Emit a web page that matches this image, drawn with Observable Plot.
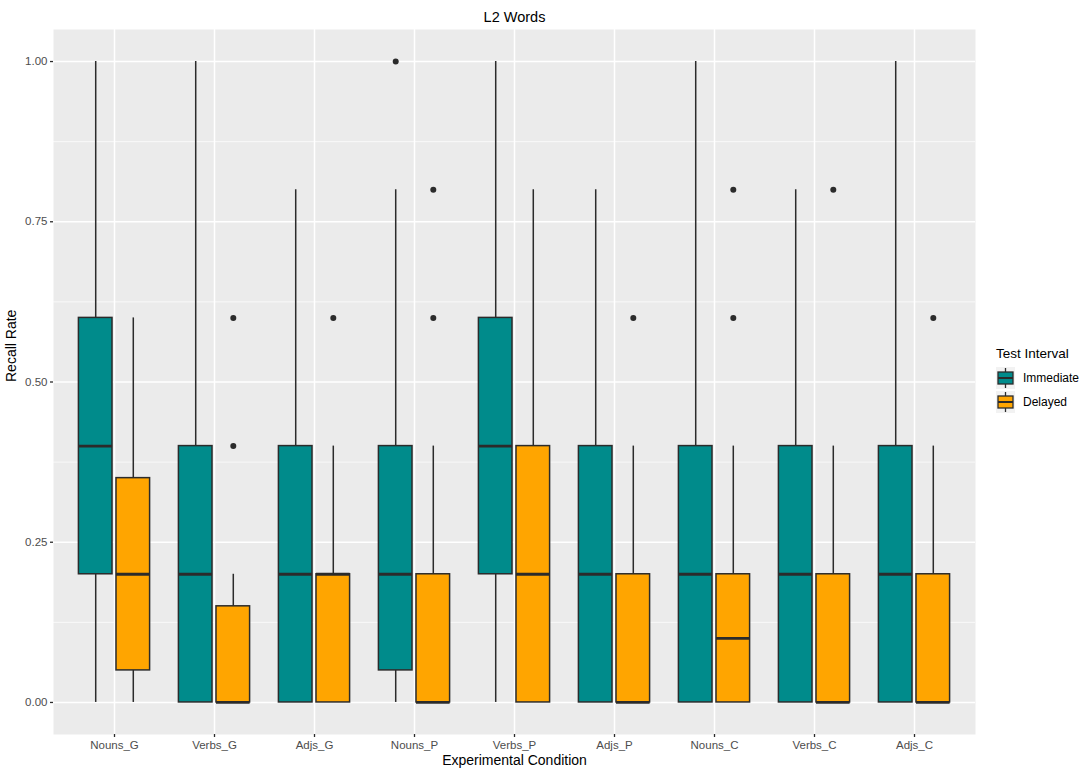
<!DOCTYPE html>
<html>
<head>
<meta charset="utf-8">
<script src="https://cdn.jsdelivr.net/npm/d3@7"></script>
<script src="https://cdn.jsdelivr.net/npm/@observablehq/plot@0.6"></script>
<style>
  body { margin: 0; background: #fff; font-family: "Liberation Sans", Arial, sans-serif; }
  #wrap { position: relative; width: 1084px; height: 772px; }
  #legend { position: absolute; left: 996px; top: 346px; font-family: "Liberation Sans", Arial, sans-serif; }
  #legend .t { font-size: 13.5px; color: #000; margin-bottom: 5px; }
  #legend .row { display: flex; align-items: center; height: 24px; font-size: 12px; color: #000; }
  #legend svg { margin-right: 8px; }
</style>
</head>
<body>
<div id="wrap"><div id="chart"></div><div id="legend"></div></div>
<script>
const categories = ["Nouns_G","Verbs_G","Adjs_G","Nouns_P","Verbs_P","Adjs_P","Nouns_C","Verbs_C","Adjs_C"];
const intervals = ["Immediate","Delayed"];
const intervalColors = ["#008B8B","#FFA500"];
const yTicks = [0, 0.25, 0.5, 0.75, 1];
const yMinorTicks = [0.125, 0.375, 0.625, 0.875];

// Immediate
const immMin = [0, 0, 0, 0, 0, 0, 0, 0, 0];
const immQ1  = [0.2, 0, 0, 0.05, 0.2, 0, 0, 0, 0];
const immMed = [0.4, 0.2, 0.2, 0.2, 0.4, 0.2, 0.2, 0.2, 0.2];
const immQ3  = [0.6, 0.4, 0.4, 0.4, 0.6, 0.4, 0.4, 0.4, 0.4];
const immMax = [1, 1, 0.8, 0.8, 1, 0.8, 1, 0.8, 1];
const immOutliers = [[], [], [], [1], [], [], [], [], []];

// Delayed
const delMin = [0, 0, 0, 0, 0, 0, 0, 0, 0];
const delQ1  = [0.05, 0, 0, 0, 0, 0, 0, 0, 0];
const delMed = [0.2, 0, 0.2, 0, 0.2, 0, 0.1, 0, 0];
const delQ3  = [0.35, 0.15, 0.2, 0.2, 0.4, 0.2, 0.2, 0.2, 0.2];
const delMax = [0.6, 0.2, 0.4, 0.4, 0.8, 0.4, 0.4, 0.4, 0.4];
const delOutliers = [[], [0.4, 0.6], [0.6], [0.6, 0.8], [], [0.6], [0.6, 0.8], [0.8], [0.6]];

function buildBoxes(interval, mn, q1, md, q3, mx) {
  return categories.map((c, i) => ({cat: c, interval, min: mn[i], q1: q1[i], med: md[i], q3: q3[i], max: mx[i]}));
}
function buildOutliers(interval, outs) {
  return categories.flatMap((c, i) => outs[i].map(v => ({cat: c, interval, value: v})));
}
const immBoxes = buildBoxes("Immediate", immMin, immQ1, immMed, immQ3, immMax);
const delBoxes = buildBoxes("Delayed", delMin, delQ1, delMed, delQ3, delMax);
const immOut = buildOutliers("Immediate", immOutliers);
const delOut = buildOutliers("Delayed", delOutliers);

const W = 1084, H = 772;
const mL = 53, mR = 109, mT = 29, mB = 38;
const step = (W - mL - mR) / (categories.length + 0.2);
const boxW = step * 0.3375;
const off = step * 0.1875;
const nearInset = step / 2 - (off + boxW / 2); // outer side
const farInset = step / 2 + (off - boxW / 2);  // inner side

const stroke = "#2b2b2b";
const fontFam = "Liberation Sans, Arial, sans-serif";

function boxMarks(data, outs, color, side) {
  const dx = side * off;
  const insetLeft = side < 0 ? nearInset : farInset;
  const insetRight = side < 0 ? farInset : nearInset;
  return [
    Plot.ruleX(data, {x: "cat", y1: "min", y2: "q1", dx, stroke, strokeWidth: 1.5}),
    Plot.ruleX(data, {x: "cat", y1: "q3", y2: "max", dx, stroke, strokeWidth: 1.5}),
    Plot.barY(data, {x: "cat", y1: "q1", y2: "q3", fill: color, stroke, strokeWidth: 1.5, insetLeft, insetRight}),
    Plot.tickY(data, {x: "cat", y: "med", stroke, strokeWidth: 2.8, insetLeft, insetRight}),
    Plot.dot(outs, {x: "cat", y: "value", dx, r: 3, fill: stroke, stroke: "none"})
  ];
}

const chart = Plot.plot({
  width: W,
  height: H,
  marginLeft: mL,
  marginRight: mR,
  marginTop: mT,
  marginBottom: mB,
  style: {fontFamily: fontFam, background: "#fff"},
  x: {type: "band", domain: categories, paddingInner: 0, paddingOuter: 0.1, label: null},
  y: {domain: [-0.05, 1.05], label: null},
  marks: [
    Plot.frame({fill: "#EBEBEB", stroke: "none"}),
    Plot.ruleY(yMinorTicks, {stroke: "#fff", strokeWidth: 0.7}),
    Plot.ruleY(yTicks, {stroke: "#fff", strokeWidth: 1.5}),
    Plot.ruleX(categories, {x: d => d, stroke: "#fff", strokeWidth: 1.5}),
    ...boxMarks(immBoxes, immOut, intervalColors[0], -1),
    ...boxMarks(delBoxes, delOut, intervalColors[1], 1),
    Plot.axisY({ticks: yTicks, tickFormat: d3.format(".2f"), tickSize: 3, tickPadding: 3, stroke, fill: "#4D4D4D", fontSize: 11.5, strokeWidth: 1.3, label: null}),
    Plot.axisX({tickSize: 3, tickPadding: 3, stroke, fill: "#4D4D4D", fontSize: 11.5, strokeWidth: 1.3, label: null}),
    Plot.text(["Experimental Condition"], {frameAnchor: "bottom", dy: 30, fontSize: 14, fill: "#000"}),
    Plot.text(["Recall Rate"], {frameAnchor: "left", dx: -42, rotate: -90, fontSize: 14, fill: "#000"}),
    Plot.text(["L2 Words"], {frameAnchor: "top", dy: -18, fontSize: 14.5, fill: "#000"})
  ]
});
document.getElementById("chart").appendChild(chart);

// Legend
const lg = document.getElementById("legend");
const t = document.createElement("div");
t.className = "t";
t.textContent = "Test Interval";
lg.appendChild(t);
intervals.forEach((name, i) => {
  const row = document.createElement("div");
  row.className = "row";
  row.innerHTML = `<svg width="19" height="22" viewBox="0 0 19 22">
    <rect x="0" y="0" width="19" height="22" fill="#F2F2F2"/>
    <line x1="9.5" y1="1" x2="9.5" y2="21" stroke="${stroke}" stroke-width="1.3"/>
    <rect x="2" y="5" width="15" height="12" fill="${intervalColors[i]}" stroke="${stroke}" stroke-width="1.3"/>
    <line x1="2" y1="11" x2="17" y2="11" stroke="${stroke}" stroke-width="2"/>
  </svg><span>${name}</span>`;
  lg.appendChild(row);
});
</script>
</body>
</html>
